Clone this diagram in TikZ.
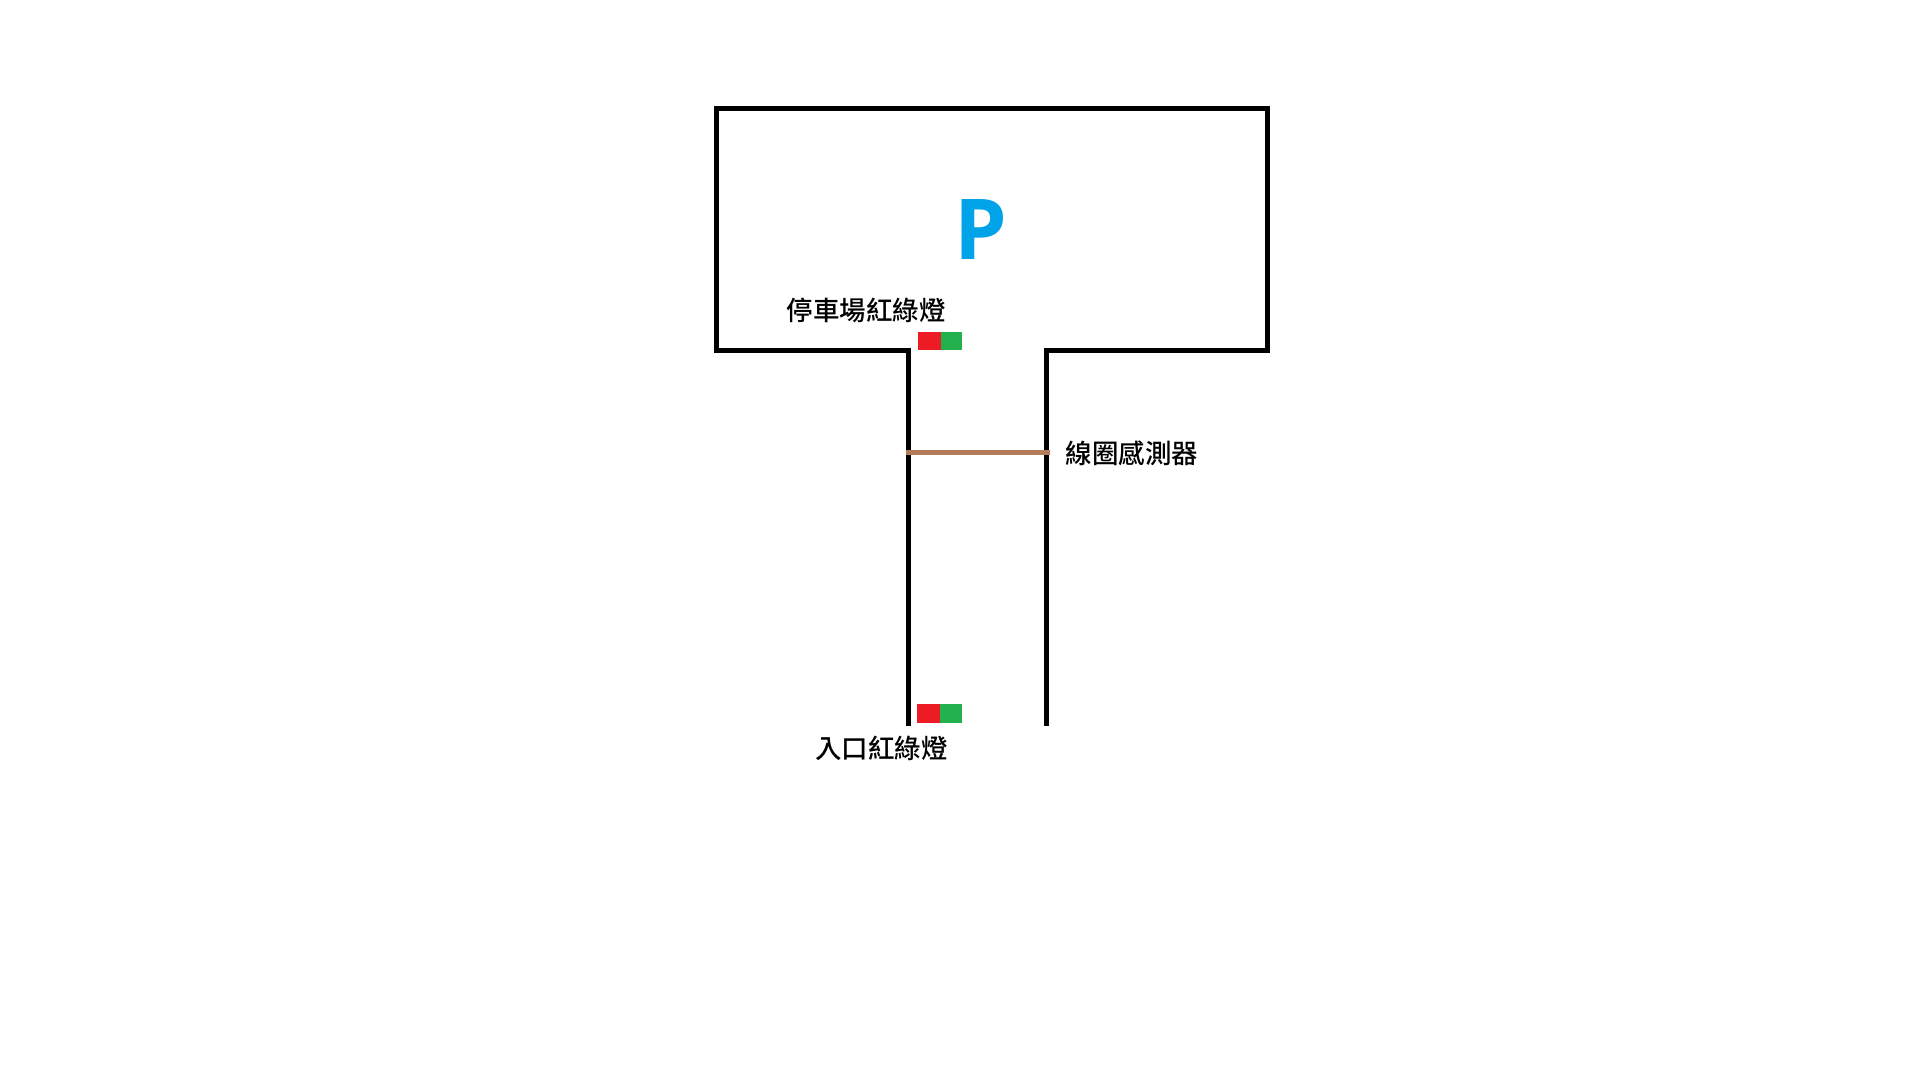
\documentclass[tikz,border=0pt]{standalone}
\usepackage{fontspec}
\newfontfamily\cjk{Noto Sans CJK TC Medium}
\newfontfamily\pfont{Open Sans}
\definecolor{lightred}{HTML}{ED1C24}
\definecolor{lightgreen}{HTML}{22B14C}
\definecolor{sensorbrown}{HTML}{B47B5A}
\definecolor{parkblue}{HTML}{00A2E8}
\tikzset{
  wall/.style={draw=black,line width=5.3pt,line join=miter},
  sensor/.style={draw=sensorbrown,line width=5pt},
  lamp/.style={draw=none,inner sep=0pt,minimum height=18.5pt},
  lbl/.style={inner sep=0pt,font=\cjk\fontsize{26.5}{30}\selectfont,text=black},
}
\begin{document}
\begin{tikzpicture}[x=1pt,y=-1pt]
\useasboundingbox (0,0) rectangle (1920,1080);
\fill[white] (0,0) rectangle (1920,1080);
% walls
\draw[wall] (908.5,725.7) -- (908.5,350.5) -- (716.5,350.5) -- (716.5,108.4) -- (1267.5,108.4) -- (1267.5,350.5) -- (1046.5,350.5) -- (1046.5,725.7);
% sensor
\coordinate (sl) at (906,452.3);
\coordinate (sr) at (1050,452.3);
\draw[sensor] (sl) -- (sr);
% upper lamp
\node[lamp,fill=lightred,minimum width=23pt] (r1) at (929.5,341) {};
\node[lamp,fill=lightgreen,minimum width=21pt] (g1) at (951.5,341) {};
% lower lamp
\node[lamp,fill=lightred,minimum width=23pt] (r2) at (928.5,713.5) {};
\node[lamp,fill=lightgreen,minimum width=22pt] (g2) at (951,713.5) {};
% labels
\node[lbl] (t1) at (866,310) {停車場紅綠燈};
\node[lbl] (t2) at (1132,453) {線圈感測器};
\node[lbl] (t3) at (881.5,748) {入口紅綠燈};
\node[inner sep=0pt,text=parkblue,font=\pfont\bfseries\fontsize{84}{100}\selectfont] (p) at (980.5,230) {P};
\end{tikzpicture}
\end{document}
